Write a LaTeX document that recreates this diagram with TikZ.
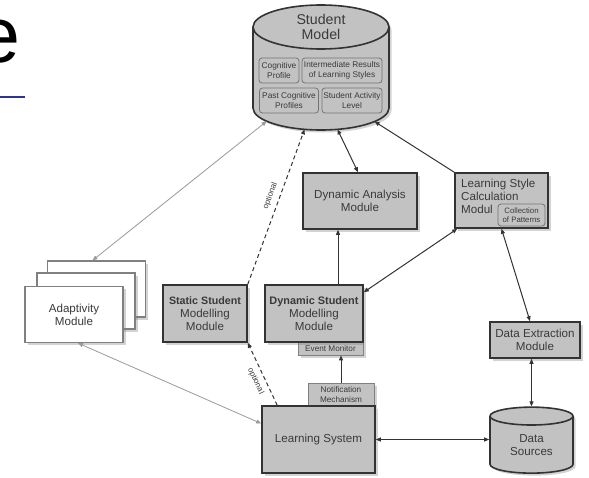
\documentclass[tikz,border=0pt]{standalone}
\usepackage{fontspec}
\setmainfont{Liberation Sans}
\usetikzlibrary{shapes.geometric,shadows,arrows.meta}

\definecolor{boxgray}{RGB}{194,194,194}
\definecolor{txtgray}{RGB}{58,58,58}
\definecolor{slideblue}{RGB}{46,49,146}

\tikzset{
    shade/.style={drop shadow={shadow xshift=2.5pt,shadow yshift=-2.5pt,opacity=.35}},
    module/.style={draw=black!80, line width=1.6pt, fill=boxgray, text=txtgray, shade,
        align=center, inner sep=2pt, font=\fontsize{11.6}{13}\selectfont},
    part/.style={draw=black!55, line width=.8pt, rounded corners=3pt, fill=boxgray,
        text=txtgray, align=center, inner sep=1pt, font=\fontsize{8.3}{9.3}\selectfont},
    tabbox/.style={draw=black!50, line width=.8pt, fill=boxgray, text=txtgray, shade,
        align=center, inner sep=1pt, font=\fontsize{8.2}{9.6}\selectfont},
    page/.style={draw=black!50, line width=1.2pt, fill=white, text=txtgray, shade,
        align=center, minimum width=98pt, minimum height=56pt,
        font=\fontsize{11.6}{13}\selectfont},
    store/.style={cylinder, shape border rotate=90, draw=black!80, line width=1.6pt,
        fill=boxgray, text=txtgray, shade, align=center, inner sep=0pt},
    drum/.style={draw=black!80, line width=1.6pt, fill=boxgray, shade},
    tip/.tip={Triangle[length=5pt,width=4pt]},
    arr/.style={line width=1pt, draw=black!80, -tip},
    twoway/.style={line width=1pt, draw=black!80, tip-tip},
    greyway/.style={line width=.8pt, draw=black!40, tip-tip},
    opt/.style={arr, dash pattern=on 4pt off 3pt},
    optlabel/.style={font=\fontsize{8}{9}\selectfont, text=txtgray, sloped, inner sep=5pt}
}

\begin{document}
\begin{tikzpicture}[x=1pt,y=-1pt]
    \useasboundingbox (0,0) rectangle (589,477);

    \node[anchor=base west, inner sep=0pt, font=\fontsize{79}{80}\selectfont] (ttl) at (-24,62) {e};
    \draw[slideblue, line width=2.5pt] (0,97) -- (25,97);

    % student model drum
    \coordinate (smb) at (321,108);
    \draw[drum] (253,27) -- (253,108) arc[start angle=180, end angle=360, x radius=68pt, y radius=22pt]
        -- (389,27) arc[start angle=0, end angle=180, x radius=68pt, y radius=22pt] -- cycle;
    \draw[draw=black!80, line width=1.6pt] (253,27) arc[start angle=180, end angle=360, x radius=68pt, y radius=22pt];
    \node[text=txtgray, align=center, font=\fontsize{14.2}{15.5}\selectfont] (sm) at (321,27) {Student\\Model};
    \coordinate (sm-ad) at ([shift={(217:68pt and 22pt)}]smb);
    \coordinate (sm-ss) at ([shift={(256:68pt and 22pt)}]smb);
    \coordinate (sm-da) at ([shift={(284:68pt and 22pt)}]smb);
    \coordinate (sm-ls) at ([shift={(322:68pt and 22pt)}]smb);
    \node[part, minimum width=40pt, minimum height=25pt] (cp) at (279,70.5) {Cognitive\\Profile};
    \node[part, minimum width=80pt, minimum height=25pt] (ir) at (342,70.5) {Intermediate Results\\of Learning Styles};
    \node[part, minimum width=59pt, minimum height=25pt] (pc) at (289,100.5) {Past Cognitive\\Profiles};
    \node[part, minimum width=60pt, minimum height=25pt] (sa) at (352,100.5) {Student Activity\\Level};

    \node[module, minimum width=114pt, minimum height=56pt] (dam) at (360,201) {Dynamic Analysis\\Module};
    \node[module, minimum width=93pt, minimum height=55pt] (lsc) at (501.5,200.5) {};
    \node[anchor=north west, align=left, inner sep=0pt, text=txtgray,
        font=\fontsize{11.6}{13}\selectfont] (lsct) at (461,178.5) {Learning Style\\Calculation\\Modul};
    \node[part, minimum width=47pt, minimum height=22pt, font=\fontsize{7.8}{8.8}\selectfont] (cop) at (521.5,215) {Collection\\of Patterns};

    \node[page] (ad3) at (96.5,289) {};
    \node[page] (ad2) at (86,301) {};
    \node[page] (ad1) at (74,314.5) {Adaptivity\\Module};

    \node[tabbox, minimum width=65pt, minimum height=13pt] (em) at (330.5,348.5) {Event Monitor};
    \node[tabbox, minimum width=66pt, minimum height=23pt] (nm) at (341,394.5) {Notification\\Mechanism};

    \node[module, minimum width=84pt, minimum height=57pt] (ssm) at (205,313.5)
        {{\fontsize{10.7}{13}\bfseries Static Student}\\Modelling\\Module};
    \node[module, minimum width=98pt, minimum height=57pt] (dsm) at (314,313.5)
        {{\fontsize{10.9}{13}\bfseries Dynamic Student}\\Modelling\\Module};
    \node[module, minimum width=113pt, minimum height=67pt] (ls) at (318.5,439.5) {Learning System};
    \node[module, minimum width=90pt, minimum height=36pt] (dem) at (535,340) {Data Extraction\\Module};
    \node[store, minimum width=83pt, minimum height=66pt, aspect=0.42,
        font=\fontsize{11.6}{13}\selectfont] (ds) at (531.5,445) {Data\\Sources};

    \draw[greyway] ([xshift=-4pt]ad3.north) -- (sm-ad);
    \draw[opt] (ssm.north east) -- node[optlabel, above, pos=.55] {optional} (sm-ss);
    \draw[twoway] (sm-da) -- ([xshift=-2pt]dam.north);
    \draw[arr] (lsc.north west) -- (sm-ls);
    \draw[arr] ([xshift=24pt]dsm.north) -- ([xshift=24pt]dsm.north |- dam.south);
    \draw[twoway] ([yshift=-8pt]dsm.north east) -- ([xshift=3pt]lsc.south west);
    \draw[twoway] (lsc.south) -- ([xshift=-5pt]dem.north);
    \draw[twoway] (dem.south -| ds.north) -- (ds.north);
    \draw[twoway] (ls.east) -- (ls.east -| ds.west);
    \draw[arr] (nm.north) -- (nm.north |- em.south);
    \draw[opt] ([xshift=16pt]ls.north west) -- node[optlabel, below, pos=.45] {optional} (ssm.south east);
    \draw[greyway] ([xshift=4pt]ad1.south) -- ([yshift=16pt]ls.west);
\end{tikzpicture}
\end{document}
